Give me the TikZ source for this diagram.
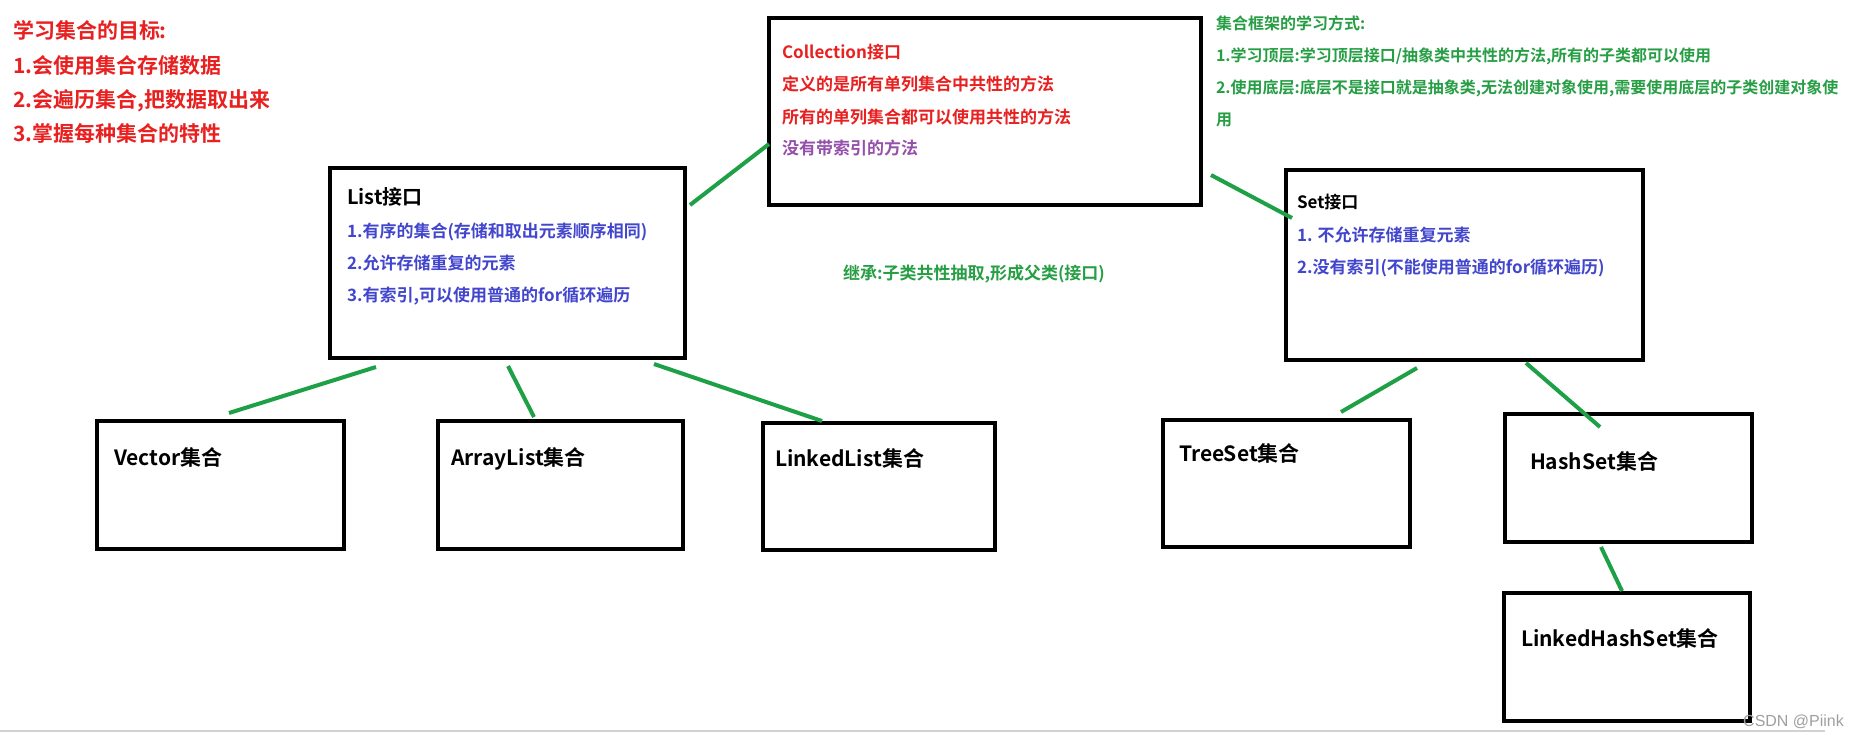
\documentclass[tikz,border=0pt]{standalone}
\usepackage{fontspec}
\usetikzlibrary{calc}
\setmainfont{Noto Sans CJK SC}[BoldFont={Noto Sans CJK SC Bold}]
\newfontfamily\wmfont{Liberation Sans}
\definecolor{tred}{RGB}{232,32,32}
\definecolor{tblue}{RGB}{66,70,205}
\definecolor{tgreen}{RGB}{38,158,68}
\definecolor{lgreen}{RGB}{30,160,70}
\definecolor{tpurple}{RGB}{148,80,170}
\newcommand{\MyBox}[5]{\node[box, minimum width={#4-#2}, minimum height={#5-#3}] (#1) at ({(#2+#4)/2},{(#3+#5)/2}) {};}
\begin{document}
\begin{tikzpicture}[x=1pt,y=-1pt,
  box/.style={draw=black, line width=4pt, inner sep=0pt, outer sep=0pt},
  lnk/.style={draw=lgreen, line width=4pt},
  txt/.style={anchor=base west, inner sep=0pt, outer sep=0pt, font=\bfseries\fontsize{17}{20}\selectfont},
  small/.style={txt, font=\bfseries\fontsize{16}{19}\selectfont},
  big/.style={txt, font=\bfseries\fontsize{21}{24}\selectfont},
  ttl/.style={txt, font=\bfseries\fontsize{20}{24}\selectfont}]
\useasboundingbox (0,0) rectangle (1872,736);
\fill[white] (0,0) rectangle (1872,736);

% boxes
\MyBox{coll}{769}{18}{1201}{205}
\MyBox{list}{330}{168}{685}{358}
\MyBox{set}{1286}{170}{1643}{360}
\MyBox{vector}{97}{421}{344}{549}
\MyBox{arraylist}{438}{421}{683}{549}
\MyBox{linkedlist}{763}{423}{995}{550}
\MyBox{treeset}{1163}{420}{1410}{547}
\MyBox{hashset}{1505}{414}{1752}{542}
\MyBox{lhs}{1504}{593}{1750}{721}

% connectors
\draw[lnk] ($(list.north east)+(5,37)$) -- ($(coll.west)+(0,32.5)$);
\draw[lnk] ($(coll.east)+(10,63.5)$) -- ($(set.north west)+(6,48)$);
\draw[lnk] ($(list.south west)+(46,9)$) -- ($(vector.north west)+(132,-8)$);
\draw[lnk] ($(list.south)+(0.5,8)$) -- ($(arraylist.north)+(-26.5,-4)$);
\draw[lnk] ($(list.south east)+(-31,6)$) -- ($(linkedlist.north west)+(59,-2)$);
\draw[lnk] ($(set.south)+(-47.5,8)$) -- ($(treeset.north)+(54.5,-8)$);
\draw[lnk] ($(set.south east)+(-117,3)$) -- ($(hashset.north)+(-28.5,13)$);
\draw[lnk] ($(hashset.south)+(-27.5,5)$) -- ($(lhs.north)+(-5,-2)$);

% top-left goals
\node[big, text=tred] (g0) at (13,38) {学习集合的目标:};
\node[big, text=tred] (g1) at (13,73) {1.会使用集合存储数据};
\node[big, text=tred] (g2) at (13,107) {2.会遍历集合,把数据取出来};
\node[big, text=tred] (g3) at (13,141) {3.掌握每种集合的特性};

% collection text
\node[txt, text=tred] (c0) at (782,58.5) {Collection接口};
\node[txt, text=tred] (c1) at (782,90.5) {定义的是所有单列集合中共性的方法};
\node[txt, text=tred] (c2) at (782,123.5) {所有的单列集合都可以使用共性的方法};
\node[txt, text=tpurple] (c3) at (782,154.5) {没有带索引的方法};

% top-right green text
\node[small, text=tgreen] (f0) at (1216,29) {集合框架的学习方式:};
\node[small, text=tgreen] (f1) at (1216,61) {1.学习顶层:学习顶层接口/抽象类中共性的方法,所有的子类都可以使用};
\node[small, text=tgreen] (f2) at (1216,93) {2.使用底层:底层不是接口就是抽象类,无法创建对象使用,需要使用底层的子类创建对象使};
\node[small, text=tgreen] (f3) at (1216,125) {用};

% list text
\node[ttl, text=black] (l0) at (347,204.5) {List接口};
\node[txt, text=tblue] (l1) at (347,237.5) {1.有序的集合(存储和取出元素顺序相同)};
\node[txt, text=tblue] (l2) at (347,269.5) {2.允许存储重复的元素};
\node[txt, text=tblue] (l3) at (347,301.5) {3.有索引,可以使用普通的for循环遍历};

% set text
\node[txt, text=black] (s0) at (1297,208.5) {Set接口};
\node[txt, text=tblue] (s1) at (1297,241.5) {1. 不允许存储重复元素};
\node[txt, text=tblue] (s2) at (1297,273.5) {2.没有索引(不能使用普通的for循环遍历)};

% middle green
\node[txt, text=tgreen] (inh) at (843,279.5) {继承:子类共性抽取,形成父类(接口)};

% bottom labels
\node[big] (tv) at (114,465) {Vector集合};
\node[big] (ta) at (451,465) {ArrayList集合};
\node[big] (tl) at (775,466) {LinkedList集合};
\node[big] (tt) at (1179,461) {TreeSet集合};
\node[big] (th) at (1530,469) {HashSet集合};
\node[big] (tlh) at (1521,646) {LinkedHashSet集合};

% screenshot edge and watermark
\draw[gray!35, line width=1.5pt] (0,731) -- (1825,731);
\node[anchor=base west, inner sep=0pt, text=gray!75, font=\wmfont\fontsize{16}{18}\selectfont] (wm) at (1743,726) {CSDN @Piink};
\end{tikzpicture}
\end{document}
